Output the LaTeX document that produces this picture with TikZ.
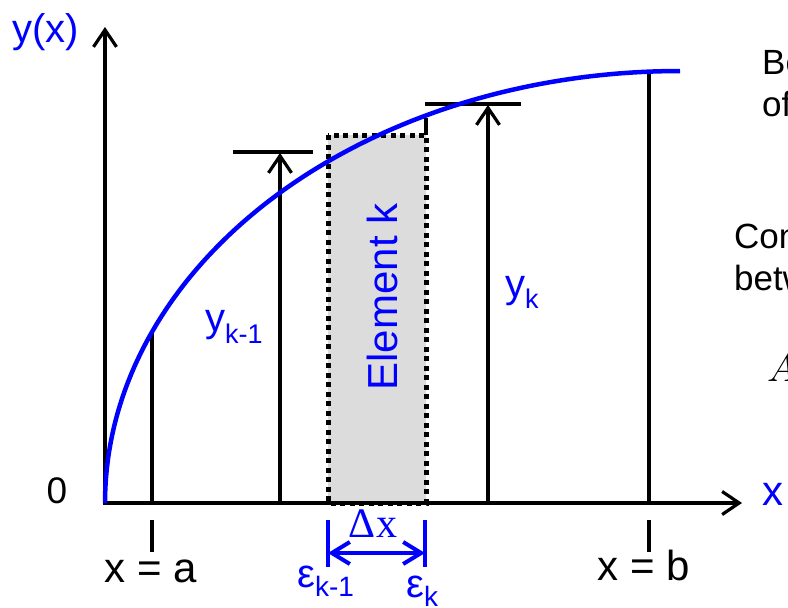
\documentclass[tikz,border=0pt]{standalone}
\usepackage{fontspec}
\usepackage{graphicx}
\setmainfont{Liberation Sans}
\newfontfamily\seriffont{Liberation Serif}
\usetikzlibrary{arrows.meta}
\definecolor{myblue}{RGB}{0,0,255}
\definecolor{elemgray}{RGB}{220,220,220}
\newcommand{\fsz}[1]{\fontsize{#1}{#1}\selectfont}
\begin{document}
\begin{tikzpicture}[x=1pt,y=-1pt,
  blk/.style={line width=3.2pt},
  arr/.style={line width=3.2pt, -{Straight Barb[length=17pt,width=23pt]}},
  bluebar/.style={myblue, line width=4pt},
  dblarr/.style={myblue, line width=4pt, {Straight Barb[length=18pt,width=22pt]}-{Straight Barb[length=18pt,width=22pt]}},
  lbl/.style={inner sep=0pt, text=myblue},
  txt/.style={inner sep=0pt, text=black},
  curve/.style={myblue, line width=4.5pt},
  dotbox/.style={line width=5pt, dash pattern=on 5pt off 4.5pt},
]
\useasboundingbox (0,0) rectangle (788,608);
% coordinates
\coordinate (O) at (105,503);
\coordinate (ybot) at (105,504.6);
\coordinate (ytip) at (105,27);
\coordinate (xtip) at (742,503);
\coordinate (a0) at (152,503);
\coordinate (a1) at (152,331);
\coordinate (p0) at (280,503);
\coordinate (p1) at (280,153);
\coordinate (p1l) at (233,152);
\coordinate (p1r) at (313,152);
\coordinate (q0) at (488,503);
\coordinate (q1) at (488,105);
\coordinate (q1l) at (425,104);
\coordinate (q1r) at (521,104);
\coordinate (b0) at (649,503);
\coordinate (b1) at (649,72);
\coordinate (s0) at (426,135);
\coordinate (s1) at (426,118);
\coordinate (ta0) at (152,520);
\coordinate (ta1) at (152,552);
\coordinate (tb0) at (649,520);
\coordinate (tb1) at (649,552);
\coordinate (e0a) at (328,520);
\coordinate (e0b) at (328,567);
\coordinate (e1a) at (425,520);
\coordinate (e1b) at (425,567);
\coordinate (d0) at (328,553);
\coordinate (d1) at (425,553);
\coordinate (r0) at (328,135);
\coordinate (r1) at (426,503);
% element rectangle
\fill[elemgray] (r0) rectangle (426,505);
% axes
\draw[arr] (ybot) -- (ytip);
\draw[arr] (O) -- (xtip);
\draw[dotbox] (r0) rectangle (r1);
% verticals
\draw[blk] (a0) -- (a1);
\draw[arr] (p0) -- (p1);
\draw[blk] (p1l) -- (p1r);
\draw[arr] (q0) -- (q1);
\draw[blk] (q1l) -- (q1r);
\draw[blk] (b0) -- (b1);
\draw[blk] (s0) -- (s1);
% ticks
\draw[blk] (ta0) -- (ta1);
\draw[blk] (tb0) -- (tb1);
% delta x
\draw[bluebar] (e0a) -- (e0b);
\draw[bluebar] (e1a) -- (e1b);
\draw[dblarr] (d0) -- (d1);
% curve
\draw[curve] plot[domain=0:90, samples=120, smooth] ({680-575*cos(\x)}, {503-432*sin(\x)});
% labels
\node[lbl, anchor=base west] (ylab) at (12,42) {\fsz{40}y(x)};
\node[txt, anchor=base] (zero) at (57,503) {\fsz{37}0};
\node[lbl, anchor=base west] (xlab) at (762,505) {\fsz{42}x};
\node[txt, anchor=base] (xa) at (151,582) {\fsz{42}x = a};
\node[txt, anchor=base] (xb) at (644,580) {\fsz{42}x = b};
\node[lbl, anchor=base west] (yk1) at (205,331) {\fsz{40}y\raisebox{-12pt}{\fsz{27}k-1}};
\node[lbl, anchor=base west] (yk) at (505,297) {\fsz{40}y\raisebox{-11pt}{\fsz{27}k}};
\node[lbl, rotate=90, anchor=base] (elem) at (397,297) {\fsz{42}Element k};
\node[lbl, anchor=base] (dx) at (373,537) {\seriffont\fsz{42}Δx};
\node[lbl, anchor=base west] (eps1) at (297,587) {\fsz{40}ε\raisebox{-9pt}{\fsz{28}k-1}};
\node[lbl, anchor=base west] (eps2) at (406,597) {\fsz{40}ε\raisebox{-9pt}{\fsz{28}k}};
\node[txt, anchor=base west] (t1) at (762,74) {\fsz{35}Be};
\node[txt, anchor=base west] (t2) at (762,116) {\fsz{35}of};
\node[txt, anchor=base west] (t3) at (734,248) {\fsz{35}Con};
\node[txt, anchor=base west] (t4) at (734,290) {\fsz{35}betw};
\node[txt, anchor=base west] (t5) at (767,381) {\scalebox{3.9}{$A$}};
\end{tikzpicture}
\end{document}
